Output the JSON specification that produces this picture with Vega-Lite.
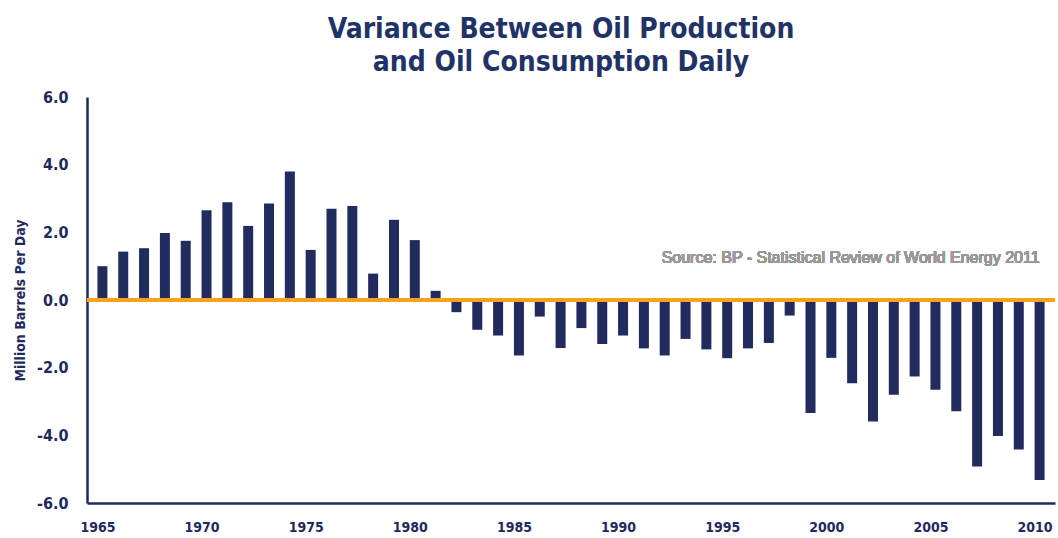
{
  "$schema": "https://vega.github.io/schema/vega-lite/v6.json",
  "width": 968,
  "height": 406,
  "autosize": {"type": "none"},
  "padding": {"left": 87, "top": 97, "right": 3, "bottom": 35},
  "background": "white",
  "title": {
    "text": ["Variance Between Oil Production", "and Oil Consumption Daily"],
    "font": "DejaVu Sans Condensed",
    "fontSize": 28,
    "fontWeight": "bold",
    "color": "#1f3366",
    "anchor": "middle",
    "dx": -10,
    "offset": 12,
    "lineHeight": 33
  },
  "config": {
    "view": {"stroke": null},
    "font": "DejaVu Sans Condensed",
    "locale": {"number": {"decimal": ".", "thousands": ",", "grouping": [3], "currency": ["$", ""], "minus": "-"}}
  },
  "data": {
    "values": [
      {"year": 1965, "variance": 1.0},
      {"year": 1966, "variance": 1.43},
      {"year": 1967, "variance": 1.53},
      {"year": 1968, "variance": 1.98},
      {"year": 1969, "variance": 1.75},
      {"year": 1970, "variance": 2.65},
      {"year": 1971, "variance": 2.89},
      {"year": 1972, "variance": 2.19},
      {"year": 1973, "variance": 2.85},
      {"year": 1974, "variance": 3.8},
      {"year": 1975, "variance": 1.48},
      {"year": 1976, "variance": 2.7},
      {"year": 1977, "variance": 2.78},
      {"year": 1978, "variance": 0.78},
      {"year": 1979, "variance": 2.37},
      {"year": 1980, "variance": 1.77},
      {"year": 1981, "variance": 0.27},
      {"year": 1982, "variance": -0.36},
      {"year": 1983, "variance": -0.88},
      {"year": 1984, "variance": -1.05},
      {"year": 1985, "variance": -1.64},
      {"year": 1986, "variance": -0.49},
      {"year": 1987, "variance": -1.42},
      {"year": 1988, "variance": -0.83},
      {"year": 1989, "variance": -1.3},
      {"year": 1990, "variance": -1.05},
      {"year": 1991, "variance": -1.43},
      {"year": 1992, "variance": -1.64},
      {"year": 1993, "variance": -1.15},
      {"year": 1994, "variance": -1.46},
      {"year": 1995, "variance": -1.72},
      {"year": 1996, "variance": -1.43},
      {"year": 1997, "variance": -1.27},
      {"year": 1998, "variance": -0.46},
      {"year": 1999, "variance": -3.34},
      {"year": 2000, "variance": -1.71},
      {"year": 2001, "variance": -2.46},
      {"year": 2002, "variance": -3.59},
      {"year": 2003, "variance": -2.8},
      {"year": 2004, "variance": -2.26},
      {"year": 2005, "variance": -2.65},
      {"year": 2006, "variance": -3.29},
      {"year": 2007, "variance": -4.92},
      {"year": 2008, "variance": -4.02},
      {"year": 2009, "variance": -4.42},
      {"year": 2010, "variance": -5.32}
    ]
  },
  "layer": [
    {
      "mark": {"type": "bar", "size": 10, "color": "#212b5e", "orient": "vertical"},
      "encoding": {
        "x": {
          "field": "year",
          "type": "quantitative",
          "scale": {"domain": [1964.5, 2010.5], "nice": false, "zero": false},
          "axis": {
            "title": null,
            "values": [1965, 1970, 1975, 1980, 1985, 1990, 1995, 2000, 2005, 2010],
            "format": "d",
            "grid": false,
            "ticks": false,
            "domainColor": "#1f2a5c",
            "domainWidth": 2.5,
            "labelFont": "DejaVu Sans Condensed",
            "labelFontSize": 14,
            "labelFontWeight": "bold",
            "labelColor": "#1f2a5c",
            "labelPadding": 17,
            "labelOffset": -5
          }
        },
        "y": {
          "field": "variance",
          "type": "quantitative",
          "scale": {"domain": [-6, 6], "nice": false},
          "axis": {
            "title": "Million Barrels Per Day",
            "values": [-6, -4, -2, 0, 2, 4, 6],
            "format": ".1f",
            "grid": false,
            "ticks": false,
            "domainColor": "#1f2a5c",
            "domainWidth": 2.5,
            "labelFont": "DejaVu Sans Condensed",
            "labelFontSize": 16,
            "labelFontWeight": "bold",
            "labelColor": "#1f2a5c",
            "labelPadding": 19,
            "titleFont": "DejaVu Sans Condensed",
            "titleFontSize": 14,
            "titleFontWeight": "bold",
            "titleColor": "#1f2a5c",
            "titlePadding": 9
          }
        }
      }
    },
    {
      "mark": {"type": "rule", "color": "#f7a21b", "strokeWidth": 4},
      "encoding": {"y": {"datum": 0}}
    },
    {
      "mark": {"type": "text", "align": "right", "baseline": "middle", "font": "Liberation Sans", "fontSize": 16, "color": "#999999"},
      "encoding": {
        "x": {"datum": 2010},
        "y": {"datum": 1.25},
        "text": {"value": "Source: BP - Statistical Review of World Energy 2011"}
      }
    }
  ]
}
